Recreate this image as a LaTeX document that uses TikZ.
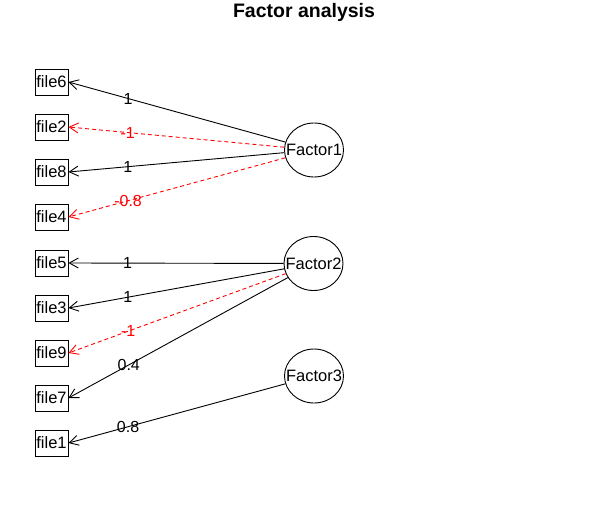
\documentclass[tikz,border=0pt]{standalone}
\usepackage{fontspec}
\setmainfont{Liberation Sans}
\usetikzlibrary{arrows.meta,shapes.geometric}
\begin{document}
\begin{tikzpicture}[x=1pt,y=-1pt,
  filebox/.style={draw,line width=0.9pt,minimum width=33pt,minimum height=26pt,inner sep=0pt,font=\fontsize{16.5}{18}\selectfont},
  factor/.style={draw,ellipse,line width=0.9pt,minimum width=59pt,minimum height=54pt,inner sep=0pt},
  factortext/.style={inner sep=0pt,font=\fontsize{16.5}{18}\selectfont},
  posline/.style={line width=0.9pt,-{Straight Barb[length=9pt,width=10pt]}},
  negline/.style={posline,red,dash pattern=on 4pt off 3pt},
  lab/.style={inner sep=0pt,font=\fontsize{16}{18}\selectfont,pos=0.725},
  neglab/.style={lab,text=red}]
\useasboundingbox (0,0) rectangle (609,516);
\node[font=\bfseries\fontsize{19.5}{22}\selectfont] (title) at (304,12) {Factor analysis};
% observed variables
\node[filebox] (file6) at (51.5,82) {file6};
\node[filebox] (file2) at (51.5,127) {file2};
\node[filebox] (file8) at (51.5,172) {file8};
\node[filebox] (file4) at (51.5,217) {file4};
\node[filebox] (file5) at (51.5,263) {file5};
\node[filebox] (file3) at (51.5,308) {file3};
\node[filebox] (file9) at (51.5,353) {file9};
\node[filebox] (file7) at (51.5,398) {file7};
\node[filebox] (file1) at (51.5,443) {file1};
% factors
\node[factor] (F1) at (314,150) {};
\node[factor] (F2) at (313.5,263.5) {};
\node[factor] (F3) at (314,376) {};
\node[factortext] (F1t) at (F1) {Factor1};
\node[factortext] (F2t) at (F2) {Factor2};
\node[factortext] (F3t) at (F3) {Factor3};
% loadings
\draw[posline] (F1) -- (file6.east) node[lab] {1};
\draw[negline] (F1) -- (file2.east) node[neglab] {-1};
\draw[posline] (F1) -- (file8.east) node[lab] {1};
\draw[negline] (F1) -- (file4.east) node[neglab] {-0.8};
\draw[posline] (F2) -- (file5.east) node[lab] {1};
\draw[posline] (F2) -- (file3.east) node[lab] {1};
\draw[negline] (F2) -- (file9.east) node[neglab] {-1};
\draw[posline] (F2) -- (file7.east) node[lab] {0.4};
\draw[posline] (F3) -- (file1.east) node[lab] {0.8};
\end{tikzpicture}
\end{document}
